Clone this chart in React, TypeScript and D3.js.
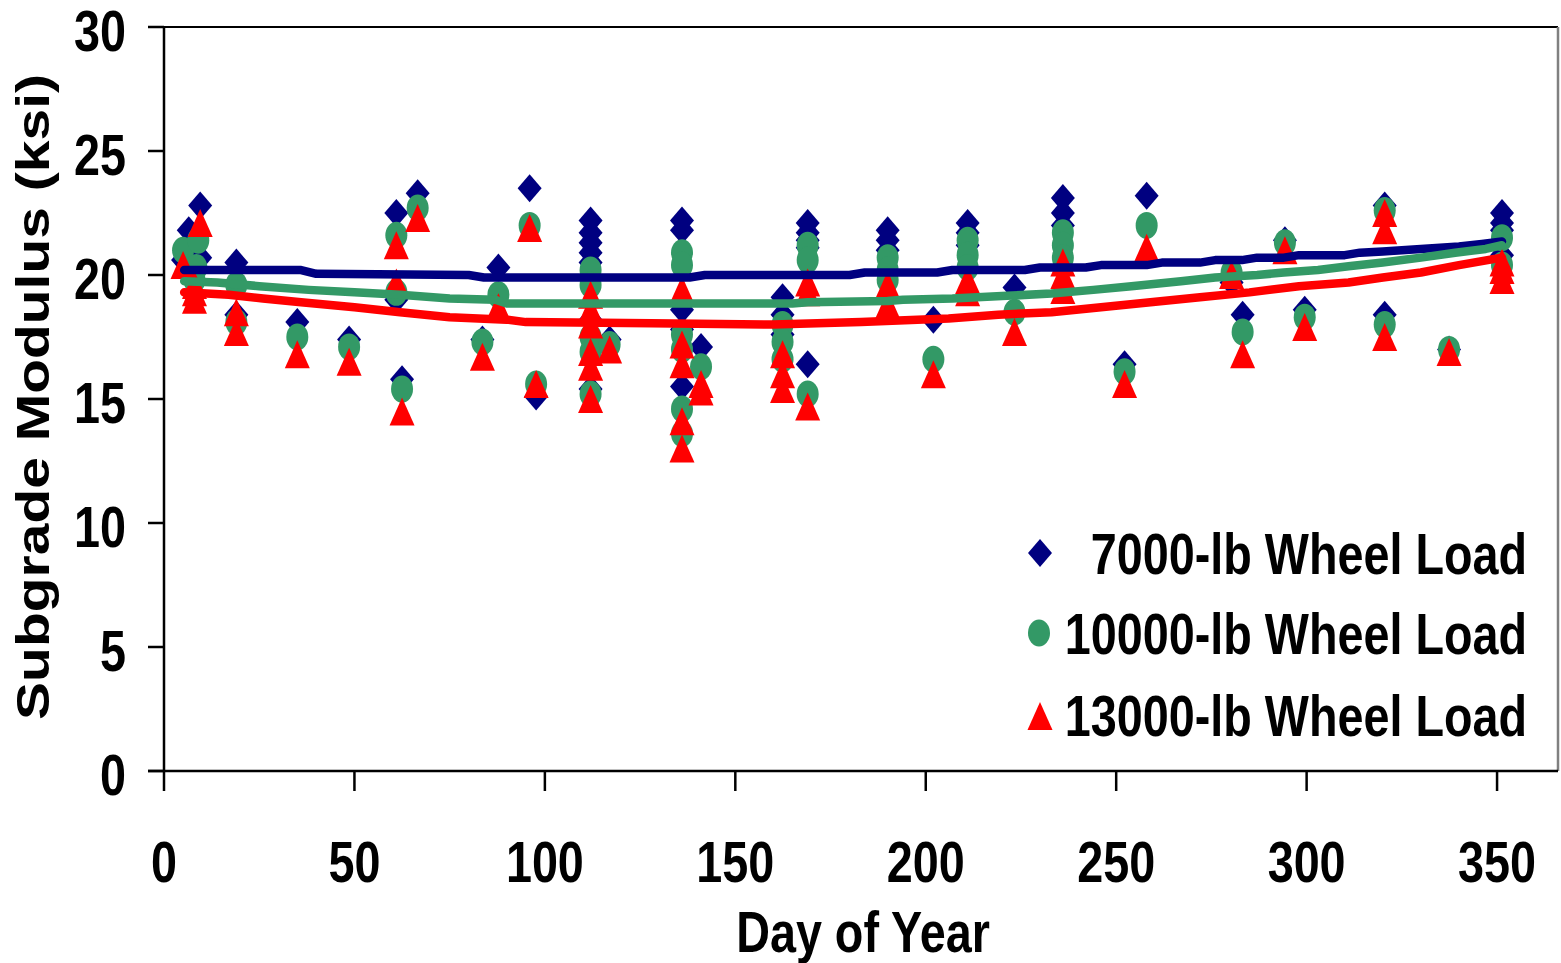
import React from "react";
import * as d3 from "d3";

// Subgrade modulus (ksi) back-calculated for three wheel loads, by day of year
const wheel7000: [number, number][] = [
  [5, 20.6], [6.5, 21.8], [9.5, 22.8], [9.5, 20.7], [7.5, 20.9],
  [19, 20.5], [19, 18.4],
  [35, 18.1],
  [48.6, 17.4],
  [61, 22.5], [61, 19.0],
  [62.5, 15.8],
  [66.6, 23.3],
  [83.6, 17.4],
  [87.8, 20.3],
  [96, 23.5],
  [97.7, 15.1],
  [112, 22.2], [112, 21.7], [112, 21.3], [112, 20.9], [112, 20.5], [112, 18.2], [112, 15.4],
  [117, 17.4],
  [136, 22.2], [136, 21.8], [136, 18.6], [136, 17.8], [136, 15.5],
  [141, 17.1],
  [162.4, 19.1], [162.4, 18.4], [162.4, 17.6],
  [169, 22.1], [169, 21.7], [169, 21.4], [169, 21.1], [169, 16.4],
  [190, 21.8], [190, 21.4], [190, 21.0],
  [202, 18.2],
  [211, 22.1], [211, 21.7], [211, 21.2],
  [223.3, 19.5],
  [236, 23.1], [236, 22.5], [236, 22.0],
  [252.2, 16.4],
  [258, 23.2],
  [280.3, 19.7],
  [283.2, 18.4],
  [294.3, 21.4],
  [299.5, 18.6],
  [320.5, 22.8], [320.5, 18.4],
  [337.4, 17.0],
  [351.3, 22.5], [351.3, 22.1], [351.3, 21.8], [351.3, 20.8],
];

const wheel10000: [number, number][] = [
  [5, 21.0], [9, 21.4], [8.5, 20.3], [8, 19.8],
  [19, 19.6], [19, 18.1],
  [35, 17.5],
  [48.6, 17.1],
  [61, 21.6], [61, 19.3],
  [62.5, 15.4],
  [66.6, 22.7],
  [83.6, 17.3],
  [87.8, 19.2],
  [96, 22.0],
  [97.7, 15.6],
  [112, 20.2], [112, 19.6], [112, 17.5], [112, 16.9], [112, 15.2],
  [117, 17.2],
  [136, 20.9], [136, 20.4], [136, 17.6], [136, 17.0], [136, 14.6], [136, 13.6],
  [141, 16.3],
  [162.4, 18.0], [162.4, 17.3], [162.4, 16.6],
  [169, 21.2], [169, 20.6], [169, 15.2],
  [190, 20.7], [190, 20.2], [190, 19.8],
  [202, 16.6],
  [211, 21.4], [211, 20.8], [211, 20.3],
  [223.3, 18.5],
  [236, 21.7], [236, 21.2], [236, 20.7],
  [252.2, 16.1],
  [258, 22.0],
  [280.3, 20.1],
  [283.2, 17.7],
  [294.3, 21.3],
  [299.5, 18.3],
  [320.5, 22.6], [320.5, 18.0],
  [337.4, 17.0],
  [351.3, 21.5], [351.3, 20.4],
];

const wheel13000: [number, number][] = [
  [5, 20.4], [9.5, 22.1], [8, 19.6], [8, 19.3], [8, 19.0],
  [19, 18.5], [19, 17.7],
  [35, 16.8],
  [48.6, 16.5],
  [61, 21.2], [61, 19.7],
  [62.5, 14.5],
  [66.6, 22.3],
  [83.6, 16.7],
  [87.8, 18.7],
  [96, 21.9],
  [97.7, 15.6],
  [112, 19.2], [112, 18.6], [112, 18.0], [112, 16.9], [112, 16.3], [112, 15.0],
  [117, 17.0],
  [136, 19.4], [136, 17.2], [136, 16.4], [136, 14.1], [136, 13.0],
  [141, 15.6], [141, 15.3],
  [162.4, 16.8], [162.4, 16.0], [162.4, 15.4],
  [169, 19.7], [169, 19.3], [169, 14.7],
  [190, 19.6], [190, 18.8],
  [202, 16.0],
  [211, 19.8], [211, 19.3],
  [223.3, 17.7],
  [236, 20.5], [236, 20.0], [236, 19.4],
  [252.2, 15.6],
  [258, 21.1],
  [280.3, 20.0],
  [283.2, 16.8],
  [294.3, 21.0],
  [299.5, 17.9],
  [320.5, 22.5], [320.5, 21.8], [320.5, 17.5],
  [337.4, 16.9],
  [351.3, 20.5], [351.3, 20.2], [351.3, 19.8],
];

// Seasonal trend curves for each load
const trend7000: [number, number][] = [
  [5.3, 20.2], [36, 20.2], [40, 20.05], [80, 20.0], [84, 19.9], [138, 19.9], [142, 20.0],
  [180, 20.0], [184, 20.1], [203, 20.1], [207, 20.2], [226, 20.2], [230, 20.3], [242, 20.3],
  [246, 20.4], [258, 20.4], [262, 20.5], [272, 20.5], [276, 20.6], [283, 20.6], [287, 20.7],
  [294, 20.7], [298, 20.8], [310, 20.8], [314, 20.9], [320, 20.95], [330, 21.05], [340, 21.15],
  [346, 21.25], [351.3, 21.35],
];
const trend10000: [number, number][] = [
  [5.3, 19.75], [14, 19.7], [25, 19.55], [38, 19.4], [50, 19.3], [62, 19.2], [75, 19.05],
  [87, 19.0], [90, 18.85], [165, 18.85], [169, 18.9], [190, 18.95], [194, 19.0], [207, 19.05],
  [220, 19.15], [233, 19.25], [244, 19.4], [254, 19.55], [267, 19.75], [276, 19.9], [287, 20.0],
  [294, 20.1], [303, 20.2], [311, 20.35], [320, 20.5], [330, 20.7], [339, 20.9], [347, 21.05],
  [351.3, 21.2],
];
const trend13000: [number, number][] = [
  [5.3, 19.3], [17, 19.2], [26, 19.05], [36, 18.9], [50, 18.7], [62, 18.5], [75, 18.3],
  [90, 18.2], [95, 18.1], [128, 18.05], [160, 18.0], [183, 18.1], [206, 18.25], [219, 18.4],
  [233, 18.5], [246, 18.7], [259, 18.9], [272, 19.1], [285, 19.3], [298, 19.55], [311, 19.7],
  [320, 19.9], [330, 20.1], [340, 20.4], [351.3, 20.7],
];

const xTicks = [0, 50, 100, 150, 200, 250, 300, 350];
const yTicks = [0, 5, 10, 15, 20, 25, 30];
const legendLabels = ["7000-lb Wheel Load", "10000-lb Wheel Load", "13000-lb Wheel Load"];

const NAVY = "#000080";
const GREEN = "#339966";
const RED = "#FF0000";
const FONT = "'Liberation Sans', Arial, Helvetica, sans-serif";
const SQUASH = 0.82;

const W = 1561;
const H = 963;
const left = 164;
const right = 1558;
const top = 27;
const bottom = 771;

const x = d3.scaleLinear().domain([0, 366]).range([left, right]);
const y = d3.scaleLinear().domain([0, 30]).range([bottom, top]);

const diamondPath = (cx: number, cy: number) =>
  `M${cx},${cy - 14}L${cx + 12},${cy}L${cx},${cy + 14}L${cx - 12},${cy}Z`;
const trianglePath = (cx: number, cy: number) =>
  `M${cx},${cy - 14}L${cx + 12.5},${cy + 14}L${cx - 12.5},${cy + 14}Z`;

const line = d3
  .line<[number, number]>()
  .x((d) => x(d[0]))
  .y((d) => y(d[1]));

function Label(props: {
  x: number;
  y: number;
  anchor?: string;
  rotate?: boolean;
  size?: number;
  children: React.ReactNode;
}) {
  const { x: tx, y: ty, anchor = "middle", rotate = false, size = 57, children } = props;
  const transform = `translate(${tx},${ty}) scale(${SQUASH},1)${rotate ? " rotate(-90)" : ""}`;
  return (
    <text
      transform={transform}
      textAnchor={anchor}
      fontFamily={FONT}
      fontWeight="bold"
      fontSize={size}
      fill="#000"
    >
      {children}
    </text>
  );
}

export default function App() {
  const legendY = [553, 633, 716];
  const legendTextY = [574, 654, 736];
  return (
    <svg
      width={W}
      height={H}
      style={{ position: "absolute", left: 0, top: 0, display: "block", background: "#fff" }}
    >
      <rect x={0} y={0} width={W} height={H} fill="#fff" />

      {/* plot frame */}
      <line x1={left} x2={right} y1={top} y2={top} stroke="#000" strokeWidth={2} />
      <line x1={right} x2={right} y1={top} y2={bottom} stroke="#808080" strokeWidth={2.5} />

      {/* y axis */}
      <line x1={left} x2={left} y1={top} y2={bottom} stroke="#000" strokeWidth={2.5} />
      {yTicks.map((t) => (
        <g key={`y${t}`}>
          <line x1={left - 16} x2={left} y1={y(t)} y2={y(t)} stroke="#000" strokeWidth={2.5} />
          <Label x={126} y={y(t) + 23.5} anchor="end">
            {t}
          </Label>
        </g>
      ))}

      {/* x axis */}
      <line x1={left - 16} x2={right} y1={bottom} y2={bottom} stroke="#000" strokeWidth={2.5} />
      {xTicks.map((t) => (
        <g key={`x${t}`}>
          <line x1={x(t)} x2={x(t)} y1={bottom} y2={bottom + 20} stroke="#000" strokeWidth={2.5} />
          <Label x={x(t)} y={882}>
            {t}
          </Label>
        </g>
      ))}

      <Label x={863} y={952}>Day of Year</Label>
      <Label x={48.5} y={397} rotate size={57}>
        Subgrade Modulus (ksi)
      </Label>

      {/* data points */}
      {wheel7000.map((d, i) => (
        <path key={`a${i}`} d={diamondPath(x(d[0]), y(d[1]))} fill={NAVY} />
      ))}
      {wheel10000.map((d, i) => (
        <ellipse key={`b${i}`} cx={x(d[0])} cy={y(d[1])} rx={11} ry={13.5} fill={GREEN} />
      ))}
      {wheel13000.map((d, i) => (
        <path key={`c${i}`} d={trianglePath(x(d[0]), y(d[1]))} fill={RED} />
      ))}

      {/* trend curves */}
      {[
        [trend7000, NAVY],
        [trend10000, GREEN],
        [trend13000, RED],
      ].map(([pts, c], i) => (
        <path
          key={`t${i}`}
          d={line(pts as [number, number][]) || ""}
          fill="none"
          stroke={c as string}
          strokeWidth={8.5}
          strokeLinejoin="round"
          strokeLinecap="round"
        />
      ))}

      {/* legend */}
      <path d={diamondPath(1040, legendY[0])} fill={NAVY} />
      <ellipse cx={1039} cy={legendY[1]} rx={11} ry={13.5} fill={GREEN} />
      <path d={trianglePath(1040, legendY[2])} fill={RED} />
      {legendLabels.map((l, i) => (
        <Label key={l} x={1527} y={legendTextY[i]} anchor="end">
          {l}
        </Label>
      ))}
    </svg>
  );
}
